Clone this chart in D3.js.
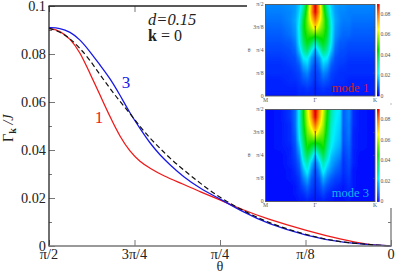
<!DOCTYPE html>
<html><head><meta charset="utf-8">
<script src="https://cdnjs.cloudflare.com/ajax/libs/d3/7.8.5/d3.min.js"></script>
<style>html,body{margin:0;padding:0;background:#fff}svg{display:block}text{font-family:"Liberation Serif",serif}</style>
</head><body><svg id="c" width="395" height="273"></svg>
<script>
const xTickPos=[0.5,0.375,0.25,0.125,0];
const xTickLabels=["π/2","3π/4","π/4","π/8","0"];
const yTicks=[0,0.02,0.04,0.06,0.08,0.1];
const yMinor=[0.01,0.03,0.05,0.07,0.09];
const redT=[.5,.484,.4693,.4547,.4401,.4254,.4108,.3962,.3816,.367,.3523,.3329,.3037,.2792,.25,.2164,.1813,.1228,.07,.035,0];
const redV=[.0907,.0897,.0865,.0809,.0719,.0629,.0538,.0455,.0393,.0351,.0324,.0292,.0258,.0226,.0193,.015,.0113,.0063,.0025,.0006,0];
const blueT=[.5,.484,.4693,.4547,.4401,.4254,.4108,.3962,.3816,.367,.3523,.3377,.3231,.3037,.2792,.25,.2164,.1813,.1228,.07,0];
const blueV=[.091,.0908,.0893,.0861,.081,.0754,.0699,.0629,.0553,.049,.0428,.0379,.0338,.0289,.024,.0196,.0142,.0094,.0042,.0012,0];
const dashT=[.5,.484,.4693,.4547,.4401,.4254,.4108,.3962,.3816,.367,.3523,.3377,.3231,.3037,.2792,.25,.2164,.1813,.1228,.07,0];
const dashV=[.0907,.0893,.0865,.0824,.0775,.0713,.0657,.0601,.0553,.0497,.0449,.0407,.0365,.0318,.0262,.02,.0148,.0098,.0044,.0013,0];
// heat-map grids (units of 0.001), columns = k offset from Gamma, rows = theta from pi/2 to 0
const kCols=[-50,-35,-25,-20,-16,-12,-8,-4,0,4,8,12,16,20,25,28,34,38,45,60];
const thetaRows=[6,5.5,5,4.5,4,3.5,3,2.5,2,1.5,1,0.5,0]; // units of pi/12
const mode1=[
[12,12,13,14,18,28,48,72,92,72,48,28,18,14,13,13,12,12,12,12],
[11,11,12,14,20,34,52,74,90,74,52,34,20,14,12,12,11,11,11,11],
[10,10,12,15,22,40,54,68,80,68,54,40,22,15,12,11,11,10,10,10],
[9,9,11,14,24,42,52,60,70,60,52,42,24,14,11,10,10,9,9,9],
[8,8,10,13,23,40,48,50,50,50,48,40,23,13,10,9,9,8,8,8],
[7,7,8,11,22,36,44,38,28,38,44,36,22,11,8,8,7,7,7,7],
[6,6,7,9,18,30,36,24,14,24,36,30,18,9,7,7,6,6,6,6],
[5,5,6,7,12,22,24,14,9,14,24,22,12,7,6,6,5,5,5,5],
[4,4,5,6,8,15,18,10,6,10,18,15,8,6,5,5,4,4,4,4],
[4,4,4,5,6,10,12,7,5,7,12,10,6,5,4,4,4,4,4,4],
[3,3,4,4,5,7,8,6,4,6,8,7,5,4,4,4,3,3,3,3],
[3,3,3,3,4,4,5,4,3,4,5,4,4,3,3,3,3,3,3,3],
[2,2,2,2,3,3,3,3,3,3,3,3,3,2,2,2,2,2,2,2]];
const mode3=[
[1,2,5,10,24,44,62,76,92,76,62,46,30,24,21,8,12,4,2,1],
[1,2,5,10,24,44,60,74,90,74,60,44,29,23,20,8,12,4,2,1],
[1,2,4,10,24,42,58,68,80,68,58,42,27,22,19,8,11,4,2,1],
[1,2,4,9,23,40,54,60,70,60,54,40,25,21,18,7,11,3,2,1],
[1,2,4,8,21,36,50,50,52,50,50,36,24,20,17,7,10,3,2,1],
[1,2,3,7,16,32,46,40,32,40,46,32,22,18,15,6,9,3,2,1],
[1,1,3,6,12,28,38,28,16,28,38,28,18,15,12,5,8,3,1,1],
[1,1,3,5,9,22,30,18,9,18,30,22,15,12,9,4,7,3,1,1],
[1,1,2,4,7,16,24,12,6,12,24,16,12,9,7,4,6,2,1,1],
[1,1,2,3,5,11,16,8,5,8,16,11,8,6,5,3,5,2,1,1],
[1,1,1,2,4,7,10,6,4,6,10,7,5,4,3,2,4,2,1,1],
[1,1,1,2,3,4,6,4,3,4,6,4,3,2,2,2,3,1,1,1],
[1,1,1,1,2,2,3,2,2,2,3,2,2,1,1,1,2,1,1,1]];
const barTicks=[0,0.02,0.04,0.06,0.08];
const insetYLabels=["π/2","3π/8","π/4","π/8","0"];
const insetXLabels=["M","Γ","K"];

const svg=d3.select("#c");
const x=d3.scaleLinear().domain([0.5,0]).range([49,391]);
const y=d3.scaleLinear().domain([0,0.1]).range([246,6]);
const grey="#777";

const line=(T,V)=>d3.line().x(i=>x(T[i])).y(i=>y(V[i])).curve(d3.curveBasis)(d3.range(T.length));
svg.append("path").attr("d",line(redT,redV)).attr("fill","none").attr("stroke","#f01818").attr("stroke-width",1.3);
svg.append("path").attr("d",line(blueT,blueV)).attr("fill","none").attr("stroke","#1818e8").attr("stroke-width",1.3);
svg.append("path").attr("d",line(dashT,dashV)).attr("fill","none").attr("stroke","#111").attr("stroke-width",1.2).attr("stroke-dasharray","5,3");

const gL=svg.append("g").attr("transform","translate(49,0)")
 .call(d3.axisRight(y).tickValues(yTicks).tickSize(6).tickFormat(""));
gL.selectAll("line").attr("stroke",grey);gL.select(".domain").remove();
const gLm=svg.append("g").attr("transform","translate(49,0)")
 .call(d3.axisRight(y).tickValues(yMinor).tickSize(3).tickFormat(""));
gLm.selectAll("line").attr("stroke",grey);gLm.select(".domain").remove();
const gB=svg.append("g").attr("transform","translate(0,246)")
 .call(d3.axisTop(x).tickValues(xTickPos).tickSize(6).tickFormat(""));
gB.selectAll("line").attr("stroke",grey);gB.select(".domain").remove();
const gT=svg.append("g").attr("transform","translate(0,6)")
 .call(d3.axisBottom(x).tickValues(xTickPos.slice(0,2)).tickSize(6).tickFormat(""));
gT.selectAll("line").attr("stroke",grey);gT.select(".domain").remove();
const gR=svg.append("g").attr("transform","translate(391,0)")
 .call(d3.axisLeft(y).tickValues([0.01]).tickSize(3).tickFormat(""));
gR.selectAll("line").attr("stroke",grey);gR.select(".domain").remove();

svg.append("line").attr("x1",49).attr("x2",49).attr("y1",6).attr("y2",246.5).attr("stroke","#222").attr("stroke-width",1.3);
svg.append("line").attr("x1",48.5).attr("x2",247).attr("y1",6).attr("y2",6).attr("stroke","#222").attr("stroke-width",1.3);
svg.append("line").attr("x1",49).attr("x2",391.5).attr("y1",246).attr("y2",246).attr("stroke",grey).attr("stroke-width",1.5);
svg.append("line").attr("x1",391).attr("x2",391).attr("y1",208).attr("y2",246.5).attr("stroke",grey).attr("stroke-width",1.3);
svg.append("line").attr("x1",391).attr("x2",391).attr("y1",103.5).attr("y2",104.5).attr("stroke",grey);

const T=(s,px,py,size,col,anchor)=>svg.append("text").attr("x",px).attr("y",py).attr("font-size",size).attr("fill",col||"#222").attr("text-anchor",anchor||"start").text(s);
yTicks.forEach((v,i)=>T(i==5?"0.1":i==0?"0":d3.format(".2f")(v),46,y(v)+5,14.3,"#222","end"));
xTickPos.forEach((v,i)=>T(xTickLabels[i],x(v),259,14.3,"#222","middle"));
T("θ",220,271,14.3,"#222","middle");
T("1",99,123,17,"#f01818","middle");
T("3",126,88,17,"#1818e8","middle");
T("d=0.15",148,25,16.5).attr("font-style","italic");
const k0=T("",148,41,16);
k0.append("tspan").attr("font-weight","bold").text("k");
k0.append("tspan").text(" = 0");
const yl=svg.append("text").attr("transform","translate(13,142) rotate(-90)").attr("font-size",14.3).attr("fill","#222");
yl.append("tspan").text("Γ");
yl.append("tspan").attr("font-weight","bold").attr("font-size",10).attr("dy",3).text("k");
yl.append("tspan").attr("dy",-3).attr("font-style","italic").text(" /J");

const defs=svg.append("defs");
defs.append("filter").attr("id","soft").attr("x","-5%").attr("y","-5%").attr("width","110%").attr("height","110%")
 .append("feGaussianBlur").attr("stdDeviation",0.7);
const colour=d3.scaleLinear().domain([0,12,22,45,65,75,90])
 .range(["#0000ff","#0088ff","#00f0ff","#00e000","#ffff00","#ff9900","#e80000"]).clamp(true);

function inset(grid,top,bottom,id,label,labelCol){
 const kx=d3.scaleLinear().domain([-50,60]).range([265.5,375]);
 const ty=d3.scaleLinear().domain([6,0]).range([top,bottom]);
 defs.append("clipPath").attr("id",id).append("rect").attr("x",265.5).attr("y",top).attr("width",109.5).attr("height",bottom-top);
 const cells=svg.append("g").attr("clip-path",`url(#${id})`).append("g").attr("filter","url(#soft)");
 const colScales=kCols.map((k,c)=>d3.scaleLinear().domain(thetaRows).range(grid.map(r=>r[c])).clamp(true));
 const py=d3.range(Math.floor(top)-2,Math.ceil(bottom)+2);
 const px=d3.range(263,378);
 py.forEach(p=>{
  const t=ty.invert(p+.5);
  const rowAt=d3.scaleLinear().domain(kCols).range(colScales.map(s=>s(t))).clamp(true);
  px.forEach(q=>{
   cells.append("rect").attr("x",q).attr("y",p).attr("width",1.2).attr("height",1.2).attr("fill",colour(rowAt(kx.invert(q+.5))));
  });
 });
 svg.append("line").attr("x1",kx(0)).attr("x2",kx(0)).attr("y1",ty(4.6)).attr("y2",bottom).attr("stroke","#102040").attr("stroke-width",.9).attr("opacity",.8);
 svg.append("rect").attr("x",265.5).attr("y",top).attr("width",109.5).attr("height",bottom-top).attr("fill","none").attr("stroke","#555").attr("stroke-width",.9);
 const cb=d3.scaleLinear().domain([0,90]).range([bottom,top-.5]);
 d3.range(0,90).forEach(v=>svg.append("rect").attr("x",377).attr("width",2.6).attr("y",cb(v+1)).attr("height",cb(v)-cb(v+1)+.3).attr("fill",colour(v)));
 barTicks.forEach(v=>svg.append("text").attr("x",380.5).attr("y",cb(v*1000)+1.8).attr("font-size",5.7).attr("fill","#555").text(v==0?"0":v.toFixed(2)));
 [6,4.5,3,1.5,0].forEach((t,i)=>{
  svg.append("text").attr("x",263.5).attr("y",ty(t)+1.8).attr("font-size",5.7).attr("text-anchor","end").attr("fill","#555").text(insetYLabels[i]);
  svg.append("line").attr("x1",375).attr("x2",373).attr("y1",ty(t)).attr("y2",ty(t)).attr("stroke","#555").attr("stroke-width",.5);
 });
 svg.append("text").attr("x",249).attr("y",ty(3)+1.8).attr("font-size",5.7).attr("text-anchor","middle").attr("fill","#555").text("θ");
 [-50,0,60].forEach((k,i)=>svg.append("text").attr("x",kx(k)).attr("y",bottom+5.5).attr("font-size",5.7).attr("text-anchor","middle").attr("fill","#555").text(insetXLabels[i]));
 svg.append("text").attr("x",369).attr("y",bottom-4.5).attr("font-size",12.5).attr("text-anchor","end").attr("fill",labelCol).text(label);
}
inset(mode1,4.5,96,"clipA","mode 1","#d0202a");
inset(mode3,109.5,201.5,"clipB","mode 3","#10b4f8");
</script></body></html>
